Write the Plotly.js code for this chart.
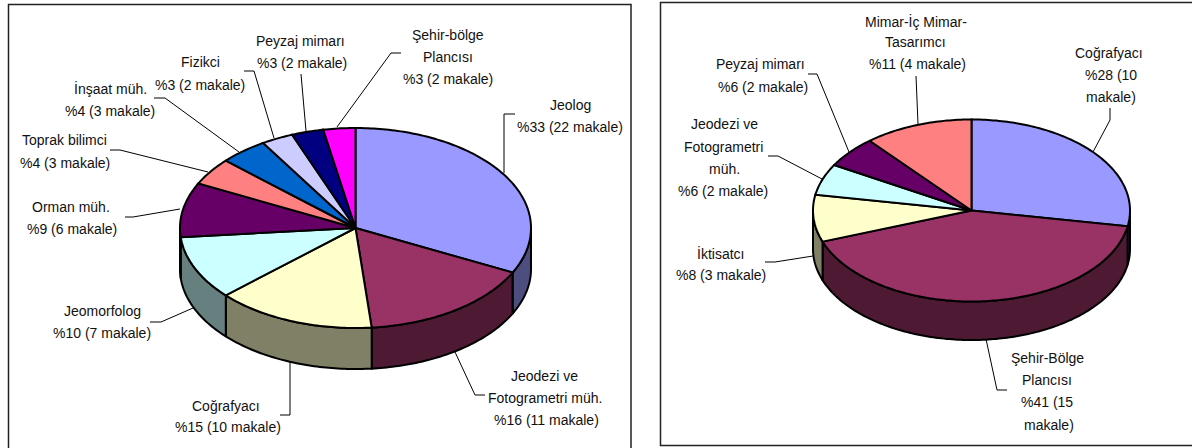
<!DOCTYPE html>
<html><head><meta charset="utf-8">
<script src="https://cdn.plot.ly/plotly-3.0.1.min.js"></script>
<style>html,body{margin:0;padding:0;background:#fff;overflow:hidden}#c{width:1192px;height:448px}</style>
</head><body><div id="c"></div>
<script>
// --- chart data ---
const leftCategories = ["Jeolog","Jeodezi ve Fotogrametri müh.","Coğrafyacı","Jeomorfolog","Orman müh.","Toprak bilimci","İnşaat müh.","Fizikci","Peyzaj mimarı","Şehir-bölge Plancısı"];
const leftCounts = [22,11,10,7,6,3,3,2,2,2];
const leftColors = ["#9999FF","#993366","#FFFFCC","#CCFFFF","#660066","#FF8080","#0066CC","#CCCCFF","#000080","#FF00FF"];
const leftWalls  = ["#4D4D80","#4D1933","#808066","#668080","#330033","#804040","#003366","#666680","#000040","#800080"];
const rightCategories = ["Coğrafyacı","Şehir-Bölge Plancısı","İktisatcı","Jeodezi ve Fotogrametri müh.","Peyzaj mimarı","Mimar-İç Mimar-Tasarımcı"];
const rightCounts = [10,15,3,2,2,4];
const rightColors = ["#9999FF","#993366","#FFFFCC","#CCFFFF","#660066","#FF8080"];
const rightWalls  = ["#4D4D80","#4D1933","#808066","#668080","#330033","#804040"];

// label lines: [text, x, y]
const leftLabels = [
 ["Jeolog",570,105],["%33 (22 makale)",570,127],
 ["Jeodezi ve",544,376],["Fotogrametri müh.",544.5,398],["%16 (11 makale)",546,420],
 ["Coğrafyacı",226,406],["%15 (10 makale)",228,427],
 ["Jeomorfolog",102,311],["%10 (7 makale)",102,333],
 ["Orman müh.",71,207],["%9 (6 makale)",72,229],
 ["Toprak bilimci",64,140],["%4 (3 makale)",65,163],
 ["İnşaat müh.",110,88],["%4 (3 makale)",110,111],
 ["Fizikci",200,62],["%3 (2 makale)",200,85],
 ["Peyzaj mimarı",300,41],["%3 (2 makale)",302,63],
 ["Şehir-bölge",448,35],["Plancısı",448,57],["%3 (2 makale)",448,79]
];
const rightLabels = [
 ["Coğrafyacı",1109,53],["%28 (10",1111,75],["makale)",1111,97],
 ["Şehir-Bölge",1047,358],["Plancısı",1047,380],["%41 (15",1047,402],["makale)",1049,425],
 ["İktisatcı",720.5,253],["%8 (3 makale)",721,275],
 ["Jeodezi ve",724,124],["Fotogrametri",723,147],["müh.",724,169],["%6 (2 makale)",723,191],
 ["Peyzaj mimarı",760.5,64],["%6 (2 makale)",763,87],
 ["Mimar-İç Mimar-",916,21],["Tasarımcı",915,42],["%11 (4 makale)",917,64]
];
// leader lines
const leftLeaders = [
 [[515,114],[504,114],[504,173]],
 [[485,395],[475,395],[455,352]],
 [[280,415],[290,415],[290,362]],
 [[150,322],[161,322],[193,308]],
 [[125,217],[133,217],[180,209]],
 [[110,150],[120,150],[208,172]],
 [[154,98],[165,98],[239,152]],
 [[244,71],[254,71],[274,138]],
 [[301,74],[306,131]],
 [[401,53],[391,53],[337,127]]
];
const rightLeaders = [
 [[1110,108],[1110,120],[1093,152]],
 [[1007,390],[997,390],[986,339]],
 [[765,262],[775,262],[813,256]],
 [[768,156],[778,156],[822,179]],
 [[808,74],[817,74],[849,152]],
 [[916,76],[918,124]]
];

// projection geometry of each pie
const leftPie  = {cx:355.5, cy:228,   rx:175.5, ry:100, depth:41,   xa:"x",  ya:"y"};
const rightPie = {cx:971.5, cy:210.5, rx:158.5, ry:91,  depth:38.5, xa:"x2", ya:"y2"};

const traces = [];
function pt(p,deg,dz){const a=deg*Math.PI/180;return [p.cx+p.rx*Math.sin(a), p.cy-p.ry*Math.cos(a)+(dz||0)];}
function arc(p,a0,a1,dz){const n=Math.max(2,Math.ceil(Math.abs(a1-a0)));const o=[];for(let i=0;i<=n;i++)o.push(pt(p,a0+(a1-a0)*i/n,dz));return o;}
function poly(p,pts,fill){traces.push({type:"scatter",mode:"lines",xaxis:p.xa,yaxis:p.ya,x:pts.map(q=>q[0]),y:pts.map(q=>q[1]),
  fill:"toself",fillcolor:fill,line:{color:"#000",width:2,simplify:false},hoverinfo:"skip",showlegend:false});}
function pie(p,counts,colors,walls){
  const total=counts.reduce((a,b)=>a+b,0);let c=0;const spans=counts.map(v=>{const s=[c/total*360,(c+v)/total*360];c+=v;return s;});
  spans.forEach((s,i)=>{const a=Math.max(s[0],90),b=Math.min(s[1],270);
    if(b>a){const w=arc(p,a,b,0).concat(arc(p,b,a,p.depth));w.push(w[0]);poly(p,w,walls[i]);}});
  spans.forEach((s,i)=>{poly(p,[[p.cx,p.cy]].concat(arc(p,s[0],s[1],0)).concat([[p.cx,p.cy]]),colors[i]);});
}
function leaders(p,list){list.forEach(l=>traces.push({type:"scatter",mode:"lines",xaxis:p.xa,yaxis:p.ya,x:l.map(q=>q[0]),y:l.map(q=>q[1]),
  line:{color:"#000",width:1},hoverinfo:"skip",showlegend:false}));}
pie(leftPie,leftCounts,leftColors,leftWalls);
pie(rightPie,rightCounts,rightColors,rightWalls);
leaders(leftPie,leftLeaders);
leaders(rightPie,rightLeaders);

const W=1192,H=448;
function ann(list,xa,ya){return list.map(l=>({text:l[0],x:l[1],y:l[2],xref:xa,yref:ya,xanchor:"center",yanchor:"middle",showarrow:false,
  font:{family:"Liberation Sans, Arial, sans-serif",size:14,color:"#111"}}));}
function ax(r,dom){return {range:r,domain:dom,visible:false,fixedrange:true};}
const layout={width:W,height:H,margin:{l:0,r:0,t:0,b:0,pad:0},paper_bgcolor:"#fff",plot_bgcolor:"rgba(0,0,0,0)",showlegend:false,
  xaxis:ax([0,645],[0,645/W]),yaxis:ax([H,0],[0,1]),
  xaxis2:ax([645,W],[645/W,1]),yaxis2:ax([H,0],[0,1]),
  annotations:ann(leftLabels,"x","y").concat(ann(rightLabels,"x2","y2")),
  shapes:[
   {type:"path",xref:"x",yref:"y",path:"M8.5,448 L8.5,4.5 L631,4.5 L631,448",line:{color:"#222",width:1.5}},
   {type:"path",xref:"x2",yref:"y2",path:"M1192,2.5 L660.5,2.5 L660.5,445.5 L1192,445.5",line:{color:"#222",width:1.5}}
  ]};
Plotly.newPlot("c",traces,layout,{staticPlot:true,displayModeBar:false});
</script></body></html>
